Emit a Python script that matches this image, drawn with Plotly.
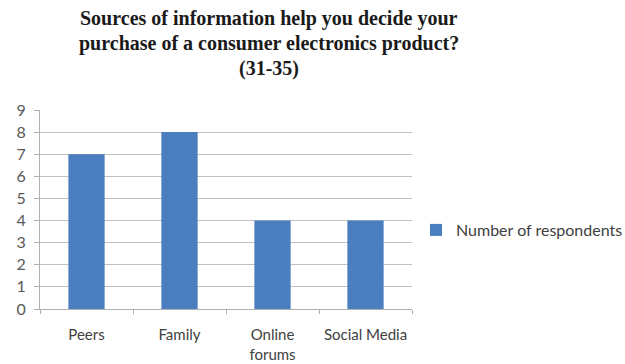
import plotly.graph_objects as go

categories = ["Peers", "Family", "Online<br>forums", "Social Media"]
respondents = [7, 8, 4, 4]
series_name = "Number of respondents"
title_lines = [
    "Sources of information help you decide your",
    "purchase of a consumer electronics product?",
    "(31-35)",
]

# plot area geometry in pixels (used to place the title lines)
PLOT_LEFT, PLOT_RIGHT = 40, 412
PLOT_TOP, PLOT_BOTTOM = 110, 309
plot_h = PLOT_BOTTOM - PLOT_TOP
plot_w = PLOT_RIGHT - PLOT_LEFT

fig = go.Figure(
    go.Bar(
        x=categories,
        y=respondents,
        name=series_name,
        marker=dict(color="#4A7EBF", line=dict(width=0)),
        showlegend=True,
    )
)

title_centre_x = (269 - PLOT_LEFT) / plot_w
for i, line in enumerate(title_lines):
    py = 18 + 25 * i
    fig.add_annotation(
        text=line,
        xref="paper",
        yref="paper",
        x=title_centre_x,
        y=(PLOT_BOTTOM - py) / plot_h,
        xanchor="center",
        yanchor="middle",
        showarrow=False,
        font=dict(family="Liberation Serif", size=20, color="#1a1a1a", weight="bold"),
    )

fig.update_layout(
    width=625,
    height=364,
    margin=dict(l=PLOT_LEFT, r=625 - PLOT_RIGHT, t=PLOT_TOP, b=364 - PLOT_BOTTOM,
                autoexpand=False),
    paper_bgcolor="white",
    plot_bgcolor="white",
    bargap=0.61,
    legend=dict(
        x=(416 - PLOT_LEFT) / plot_w,
        y=(PLOT_BOTTOM - 230) / plot_h,
        xanchor="left",
        yanchor="middle",
        font=dict(family="Lato", size=16, color="#404040"),
        itemwidth=30,
        bgcolor="rgba(0,0,0,0)",
    ),
    font=dict(family="Lato", size=15, color="#595959"),
)

fig.update_xaxes(
    showline=True,
    linecolor="#b0b0b0",
    linewidth=1,
    ticks="outside",
    tickson="boundaries",
    ticklen=4,
    tickcolor="#b0b0b0",
    showgrid=False,
    ticklabelstandoff=12,
    tickfont=dict(family="Lato", size=15, color="#404040"),
)

fig.update_yaxes(
    range=[0, 9],
    dtick=1,
    showline=True,
    linecolor="#b0b0b0",
    linewidth=1,
    ticks="outside",
    ticklen=5,
    tickcolor="#b0b0b0",
    showgrid=True,
    gridcolor="#c0c0c0",
    gridwidth=1,
    zeroline=False,
    ticklabelstandoff=5,
    tickfont=dict(family="Lato", size=16, color="#595959"),
)

fig.write_html("out.html")
